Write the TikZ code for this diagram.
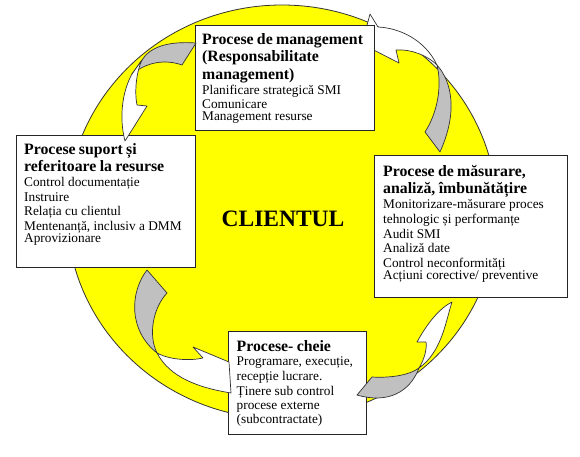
\documentclass[tikz,border=0pt]{standalone}
\usepackage{fontspec}
\setmainfont{Liberation Serif}
\newcommand\mytitle{\fontsize{15.8}{17.6}\selectfont\bfseries}
\newcommand\mybody{\fontsize{13.3}{14.7}\selectfont\mdseries}
\definecolor{ellyellow}{HTML}{FFFF00}
\definecolor{arrgray}{HTML}{C0C0C0}
\definecolor{edgedark}{HTML}{333333}
\tikzset{
  boxst/.style={draw=black!85, line width=1pt, fill=white, anchor=north west, inner sep=0pt},
  txtst/.style={anchor=north west, inner sep=0pt, align=left},
  grayarr/.style={draw=edgedark, line width=0.7pt, fill=arrgray, line join=round},
  whitearr/.style={draw=edgedark, line width=0.7pt, fill=white, line join=round},
}
\begin{document}
\begin{tikzpicture}[x=1pt,y=-1pt]
\useasboundingbox (0,0) rectangle (580,457);
% yellow ellipse
\draw[fill=ellyellow, draw=edgedark, line width=0.8pt] (282,212) ellipse [x radius=215pt, y radius=207pt];
% arrow B (measurement -> management), behind management box
\draw[grayarr] (437,65) .. controls (452,82) and (458,112) .. (440,152) -- (425,132) .. controls (438,112) and (442,85) .. (437,65) -- cycle;
\draw[whitearr] (370,14) -- (378,27) .. controls (400,28) and (425,40) .. (437,65) .. controls (428,56) and (412,49) .. (396,50) -- (399,63) -- (362,44) -- cycle;
% boxes
\node[boxst, minimum width=179pt, minimum height=105pt] (mgmt) at (195,25) {};
\node[boxst, minimum width=179pt, minimum height=132pt] (supp) at (16,135) {};
\node[boxst, minimum width=193pt, minimum height=142pt] (meas) at (374,155) {};
\node[boxst, minimum width=138pt, minimum height=103pt] (cheie) at (228,331) {};
% texts
\node[txtst, text width=174pt] (mgmtT) at ([shift={(7,8)}]mgmt.north west)
  {\mytitle Procese de management\\(Responsabilitate\\management)\par
   \mybody Planificare strategică SMI\\Comunicare\\Management resurse};
\node[txtst, text width=174pt] (suppT) at ([shift={(8,8)}]supp.north west)
  {\mytitle Procese suport și\\referitoare la resurse\par
   \mybody Control documentație\\Instruire\\Relația cu clientul\\Mentenanță, inclusiv a DMM\\Aprovizionare};
\node[txtst, text width=186pt] (measT) at ([shift={(9,10)}]meas.north west)
  {\mytitle Procese de măsurare,\\analiză, îmbunătățire\par
   \mybody Monitorizare-măsurare proces\\tehnologic și performanțe\\Audit SMI\\Analiză date\\Control neconformități\\Acțiuni corective/ preventive};
\node[txtst, text width=132pt] (cheieT) at ([shift={(8.5,9)}]cheie.north west)
  {\mytitle Procese- cheie\par
   \mybody Programare, execuție,\\recepție lucrare.\\Ținere sub control\\procese externe\\(subcontractate)};
\node[font=\fontsize{23.5}{26}\selectfont\bfseries, anchor=base, inner sep=0pt] (client) at (283,226) {CLIENTUL};
% arrow A (management -> support)
\draw[grayarr] (132,74) -- (142,60) .. controls (150,47) and (168,41) .. (196,43) -- (182,65) .. controls (165,59) and (147,62) .. (132,74) -- cycle;
\draw[whitearr] (132,74) .. controls (122,92) and (119,118) .. (125,141) -- (147,106) -- (137,105) .. controls (134,90) and (137,70) .. (142,60) -- cycle;
% arrow C (support -> cheie)
\draw[grayarr] (147,270) -- (167,293) .. controls (153,308) and (148,335) .. (157,353) .. controls (128,330) and (130,292) .. (147,270) -- cycle;
\draw[whitearr] (157,353) .. controls (170,360) and (190,361) .. (203,358) -- (193,347) -- (229,362) -- (231,393) .. controls (200,388) and (170,378) .. (157,353) -- cycle;
% arrow D (cheie -> measurement)
\draw[grayarr] (357,395) -- (372,377) .. controls (388,378) and (408,376) .. (419,368) .. controls (410,392) and (388,404) .. (357,395) -- cycle;
\draw[whitearr] (419,368) .. controls (425,358) and (427,348) .. (426,342) -- (417,342) .. controls (428,322) and (440,308) .. (452,302) .. controls (446,320) and (442,352) .. (419,368) -- cycle;
\end{tikzpicture}
\end{document}
